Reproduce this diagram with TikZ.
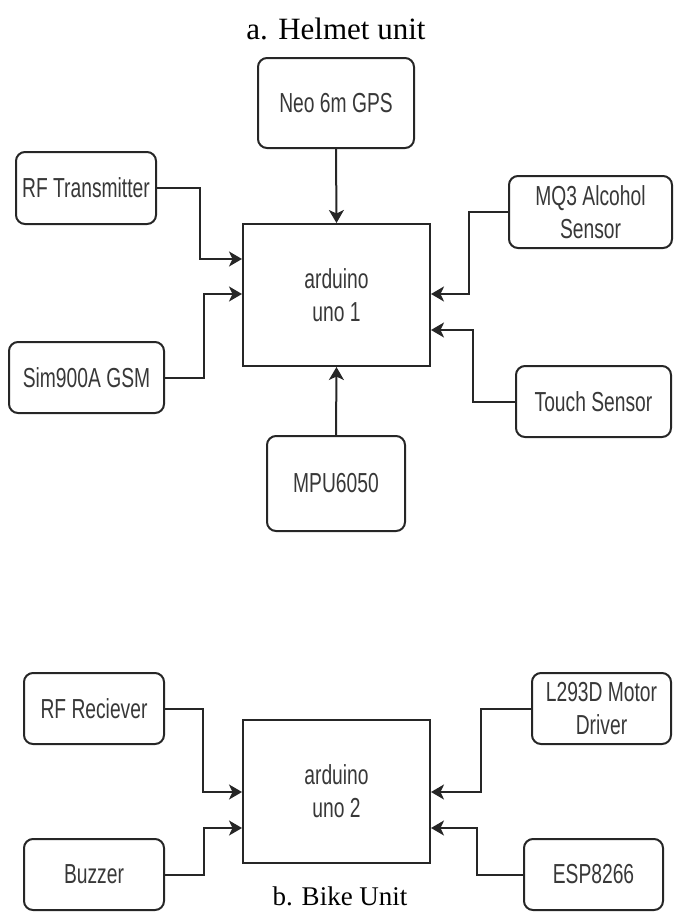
\documentclass[tikz,border=0pt]{standalone}
\usepackage{fontspec}
\setmainfont{Liberation Serif}
\newfontfamily\boxfont[FakeStretch=0.7]{Liberation Sans}
\usetikzlibrary{arrows.meta}
\tikzset{
  box/.style={draw=black!85, line width=2pt, rounded corners=9pt, align=center,
    font=\boxfont\fontsize{27.5}{33}\selectfont, text=black!78, inner sep=0pt},
  mcu/.style={draw=black!85, line width=2pt, align=center,
    font=\boxfont\fontsize{27.5}{33}\selectfont, text=black!78, inner sep=0pt},
  arr/.style={draw=black!85, line width=2pt, -{Stealth[length=13pt,width=15pt,inset=3.5pt]}},
  ttl/.style={text=black, inner sep=0pt}
}
\begin{document}
\begin{tikzpicture}[x=1pt,y=-1pt]
\useasboundingbox (0,0) rectangle (675,913);
% titles
\node[ttl, font=\fontsize{31}{34}\selectfont] (t1) at (336,29) {a. Helmet unit};
\node[ttl, font=\fontsize{27}{30}\selectfont] (t2) at (340,896) {b. Bike Unit};
% helmet unit
\node[box, minimum width=156pt, minimum height=90pt] (gps) at (336,103) {Neo 6m GPS};
\node[box, minimum width=140pt, minimum height=72pt] (rft) at (86,188) {RF Transmitter};
\node[box, minimum width=163pt, minimum height=72pt] (mq3) at (590.5,212) {MQ3 Alcohol\\Sensor};
\node[mcu, minimum width=187pt, minimum height=142pt] (ard1) at (336.5,295) {arduino\\uno 1};
\node[box, minimum width=155pt, minimum height=71pt] (sim) at (86.5,377.5) {Sim900A GSM};
\node[box, minimum width=155pt, minimum height=71pt] (touch) at (593.5,401.5) {Touch Sensor};
\node[box, minimum width=138pt, minimum height=95pt] (mpu) at (336,483.5) {MPU6050};
\coordinate (c1) at (200,259);
\coordinate (c2) at (204,294);
\coordinate (c3) at (469,294);
\coordinate (c4) at (473,330);
\draw[arr] (gps.south) -- (ard1.north);
\draw[arr] (mpu.north) -- (ard1.south);
\draw[arr] (rft.east) -| (c1) -- (c1 -| ard1.west);
\draw[arr] (sim.east) -| (c2) -- (c2 -| ard1.west);
\draw[arr] (mq3.west) -| (c3) -- (c3 -| ard1.east);
\draw[arr] (touch.west) -| (c4) -- (c4 -| ard1.east);
% bike unit
\node[box, minimum width=140pt, minimum height=71pt] (rfr) at (94,708.5) {RF Reciever};
\node[mcu, minimum width=187pt, minimum height=143pt] (ard2) at (336.5,791.5) {arduino\\uno 2};
\node[box, minimum width=140pt, minimum height=71pt] (buz) at (94,874.5) {Buzzer};
\node[box, minimum width=139pt, minimum height=71pt] (l293) at (601.5,708.5) {L293D Motor\\Driver};
\node[box, minimum width=139pt, minimum height=71pt] (esp) at (593.5,874.5) {ESP8266};
\coordinate (d1) at (203,792);
\coordinate (d2) at (204,828);
\coordinate (d3) at (481,792);
\coordinate (d4) at (477,828);
\draw[arr] (rfr.east) -| (d1) -- (d1 -| ard2.west);
\draw[arr] (buz.east) -| (d2) -- (d2 -| ard2.west);
\draw[arr] (l293.west) -| (d3) -- (d3 -| ard2.east);
\draw[arr] (esp.west) -| (d4) -- (d4 -| ard2.east);
\end{tikzpicture}
\end{document}
